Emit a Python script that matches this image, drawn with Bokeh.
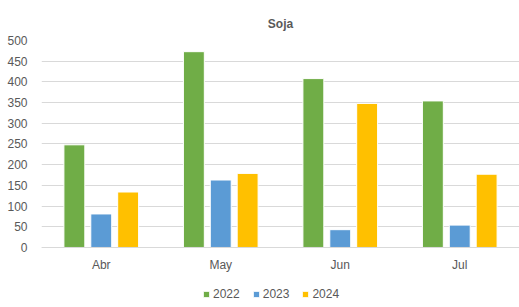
from bokeh.plotting import figure
from bokeh.models import (ColumnDataSource, FactorRange, Range1d, Legend, LegendItem,
                          CategoricalAxis)
from bokeh.transform import dodge
from bokeh.embed import file_html
from bokeh.resources import INLINE

months = ["Abr", "May", "Jun", "Jul"]
years = ["2022", "2023", "2024"]
v2022 = [248, 473, 408, 354]
v2023 = [81, 163, 43, 54]
v2024 = [134, 179, 348, 177]
colors = ["#70AD47", "#5B9BD5", "#FFC000"]
yticks = [0, 50, 100, 150, 200, 250, 300, 350, 400, 450, 500]

src = ColumnDataSource(dict(month=months, y2022=v2022, y2023=v2023, y2024=v2024))

FONT = "Liberation Sans"
p = figure(width=519, height=307, output_backend="svg", toolbar_location=None,
           x_range=FactorRange(factors=months, range_padding=0),
           y_range=Range1d(-145, 500), x_axis_location=None,
           min_border_left=41, min_border_right=0, min_border_top=40, min_border_bottom=0)
p.outline_line_color = None
p.background_fill_color = "white"
p.border_fill_color = "white"

p.title.text = "Soja"
p.title.align = "center"
p.title.text_font = FONT
p.title.text_font_size = "12px"
p.title.text_font_style = "bold"
p.title.text_color = "#595959"
p.title.offset = -12
p.title.standoff = 20

offsets = [-0.225, 0.0, 0.225]
renderers = []
for yr, col, off in zip(years, colors, offsets):
    r = p.vbar(x=dodge("month", off, range=p.x_range), top="y" + yr, width=0.175,
               source=src, fill_color=col, line_color="white", line_width=1)
    renderers.append(r)

p.yaxis.ticker = yticks
p.yaxis.axis_line_color = None
p.yaxis.major_tick_line_color = None
p.yaxis.minor_tick_line_color = None
p.yaxis.major_label_text_font = FONT
p.yaxis.major_label_text_font_size = "12px"
p.yaxis.major_label_text_color = "#595959"
p.yaxis.major_label_standoff = 8

xax = CategoricalAxis(fixed_location=0)
xax.axis_line_color = "#D9D9D9"
xax.major_tick_line_color = None
xax.minor_tick_line_color = None
xax.major_label_text_font = FONT
xax.major_label_text_font_size = "12px"
xax.major_label_text_color = "#595959"
xax.major_label_standoff = 5
p.add_layout(xax, "below")

p.xgrid.grid_line_color = None
p.ygrid.grid_line_color = "#D9D9D9"
p.ygrid.grid_line_width = 1
p.ygrid.ticker = yticks

legend = Legend(items=[LegendItem(label=yr, renderers=[r]) for yr, r in zip(years, renderers)],
                orientation="horizontal", location=(161, 6),
                label_text_font=FONT, label_text_font_size="12px", label_text_color="#595959",
                glyph_width=8, glyph_height=8, label_standoff=3, spacing=12, label_height=14,
                padding=0, margin=0, border_line_color=None, background_fill_alpha=0)
p.add_layout(legend, "center")

open("out.html", "w").write(file_html(p, INLINE))
